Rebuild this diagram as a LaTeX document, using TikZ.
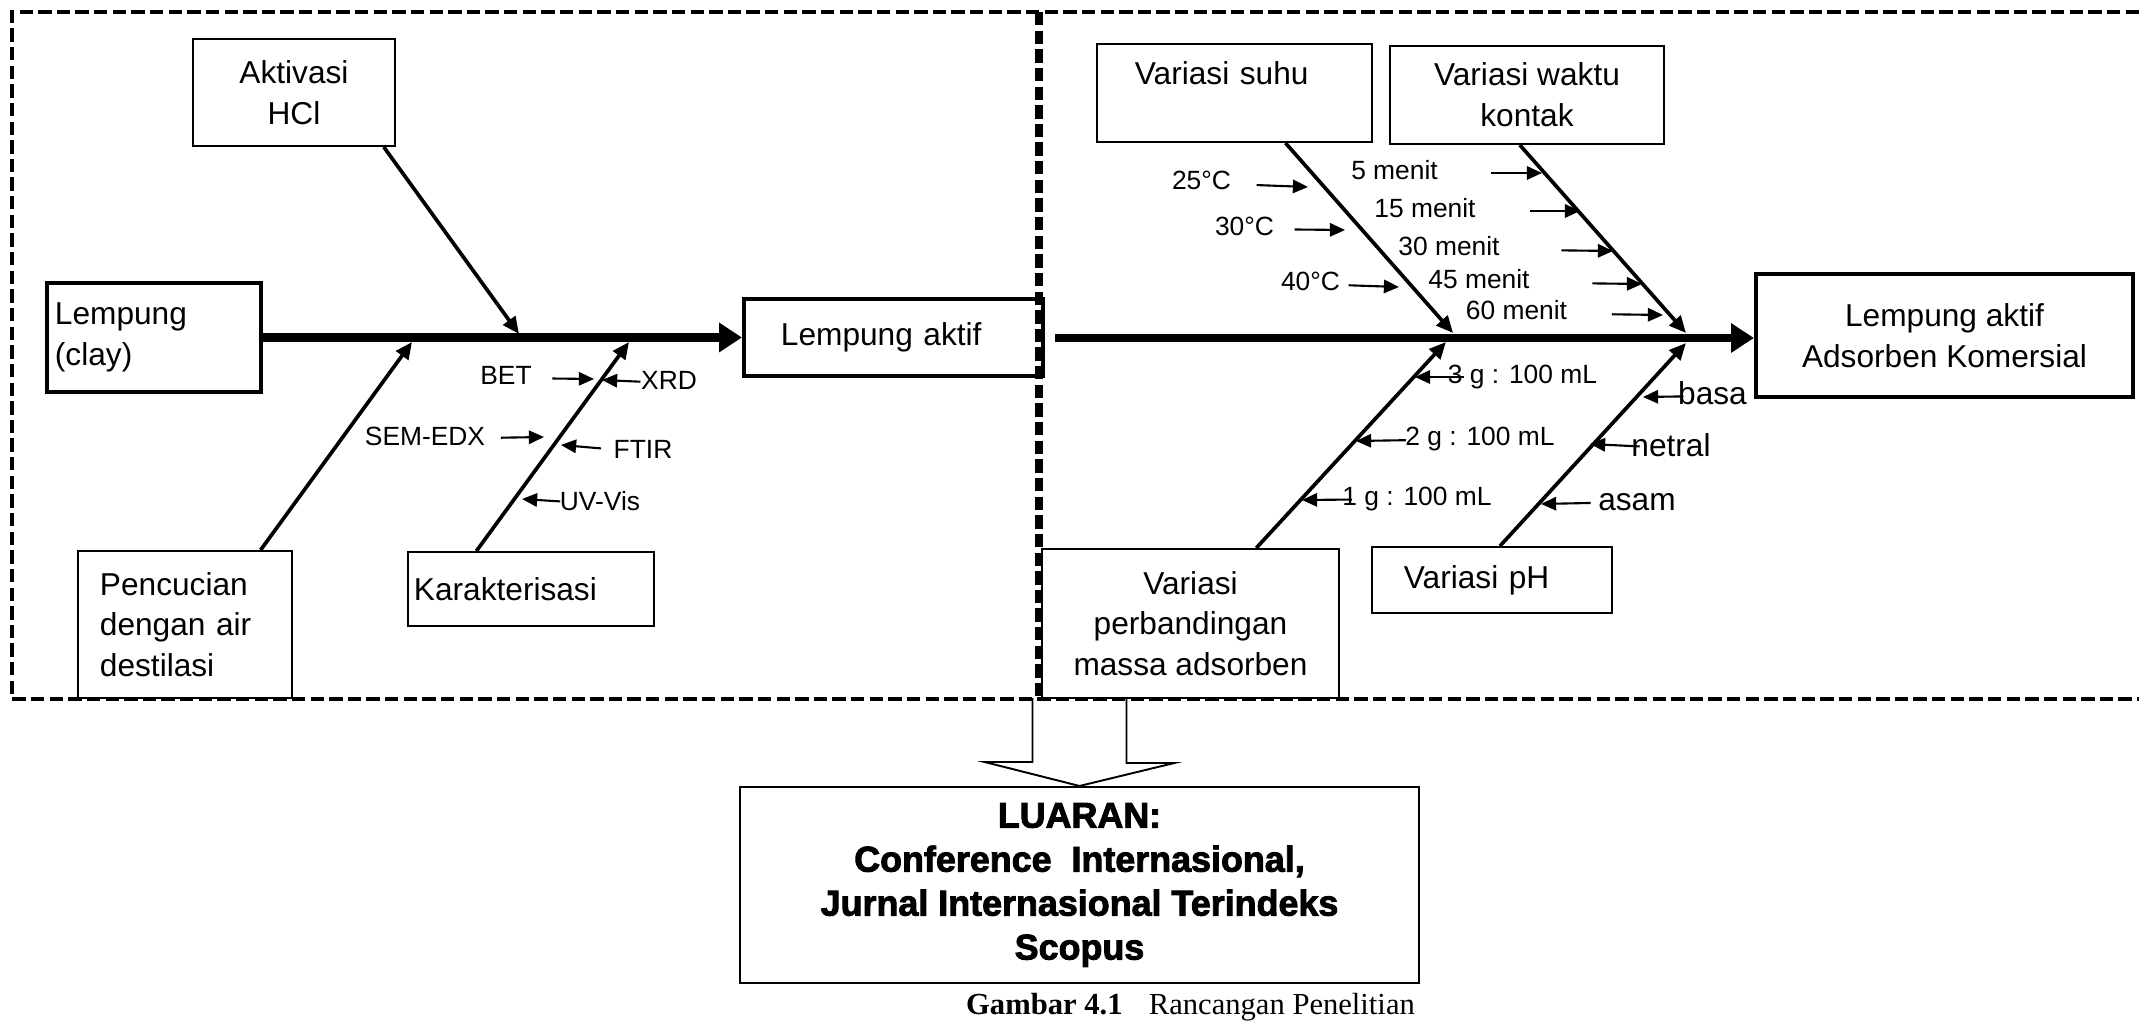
\documentclass[tikz,border=0pt]{standalone}
\usepackage{fontspec}
\setmainfont{Liberation Sans}
\newfontfamily\capfont{Liberation Serif}
\newfontfamily\heavyfont{Liberation Sans Bold}[FakeBold=2.5]
\usepackage{tikz}
\usetikzlibrary{arrows.meta,positioning,calc}

\begin{document}
\begin{tikzpicture}[x=0.01cm, y=-0.01cm, >=Latex,
        box/.style={draw, line width=0.55pt, inner sep=0pt, font=\fontsize{9}{11.6}\selectfont},
        thickbox/.style={box, line width=1.1pt},
        branch/.style={line width=1.05pt, -{Triangle[length=4.8pt,width=4.2pt]}},
        spine/.style={line width=2.3pt, -{Triangle[length=6.5pt,width=8pt]}},
        tick/.style={line width=0.6pt, -{Triangle[length=4.3pt,width=3.8pt]}},
        tag/.style={inner sep=0pt, font=\fontsize{7.5}{9}\selectfont, text height=5.4pt, text depth=1.5pt},
        bigtag/.style={inner sep=0pt, font=\fontsize{9}{11}\selectfont, text height=6.5pt, text depth=1.8pt},
        frame/.style={line width=1.4pt, dash pattern=on 3.8pt off 1.5pt}]
        \useasboundingbox[fill=white] (0,0) rectangle (2139,1025);

        % Left part: preparation of the clay
        \node[box, minimum width=2.02cm, minimum height=1.07cm, align=center] (akt) at (294,92.5) {Aktivasi\\HCl};
        \node[thickbox, minimum width=2.14cm, minimum height=1.09cm, text width=1.98cm, align=left] (clay) at (154,337.5) {Lempung\\(clay)};
        \node[thickbox, minimum width=2.99cm, minimum height=0.77cm, text width=2.25cm, align=left] (aktif) at (893.5,337.5) {Lempung aktif};
        \node[box, minimum width=2.14cm, minimum height=1.47cm, text width=1.70cm, align=left] (cuci) at (185,624.5) {Pencucian\\dengan air\\destilasi};
        \node[box, minimum width=2.46cm, minimum height=0.74cm, text width=2.34cm, align=left] (karak) at (531,589) {Karakterisasi};

        \coordinate (jA) at (519,334);
        \coordinate (jP) at (412,342);
        \coordinate (jK) at (629,342);
        \draw[spine] (clay) -- (aktif);
        \draw[branch] ($(akt.south west)!0.94!(akt.south east)$) -- (jA);
        \draw[branch] ($(cuci.north west)!0.85!(cuci.north east)$) -- (jP);
        \draw[branch] ($(karak.north west)!0.28!(karak.north east)$) -- (jK);

        \foreach \txt/\lx/\ly/\tx/\ty/\g [count=\i] in {BET/506/378/594/379/0.20, XRD/669/383/602/380/0.0,
            SEM-EDX/425/439/544/437/0.15, FTIR/643/452/561/445/0.12, UV-Vis/600/504/522/499/-0.01} {
            \node[tag] (kl\i) at (\lx,\ly) {\txt};
            \coordinate (kt\i) at (\tx,\ty);
            \draw[tick, shorten <=\g cm] (kl\i) -- (kt\i);
        }

        % Right part: adsorption variables
        \node[box, minimum width=2.75cm, minimum height=0.98cm, text width=1.99cm, align=left] (suhu) at (1234.5,93) {Variasi suhu\\~};
        \node[box, minimum width=2.74cm, minimum height=0.98cm, align=center] (waktu) at (1527,95) {Variasi waktu\\kontak};
        \node[thickbox, minimum width=3.77cm, minimum height=1.23cm, align=center] (adsorben) at (1944.5,335.5) {Lempung aktif\\Adsorben Komersial};
        \node[box, minimum width=2.97cm, minimum height=1.49cm, align=center] (massa) at (1190.5,623.5) {Variasi\\perbandingan\\massa adsorben};
        \node[box, minimum width=2.40cm, minimum height=0.66cm, text width=1.76cm, align=left] (ph) at (1492,580) {Variasi pH};

        \coordinate (r0) at (1055,338);
        \coordinate (jS) at (1453,333);
        \coordinate (jW) at (1686,333);
        \coordinate (jM) at (1446,342);
        \coordinate (jH) at (1686,343);
        \draw[spine] (r0) -- (r0 -| adsorben.west);
        \draw[branch] ($(suhu.south west)!0.684!(suhu.south east)$) -- (jS);
        \draw[branch] ($(waktu.south west)!0.474!(waktu.south east)$) -- (jW);
        \draw[branch] ($(massa.north west)!0.72!(massa.north east)$) -- (jM);
        \draw[branch] ($(ph.north west)!0.533!(ph.north east)$) -- (jH);

        \foreach \txt/\lx/\ly/\tx/\ty/\g [count=\i] in {25°C/1201.5/183/1308/187/0.25, 30°C/1244.5/229/1345/230/0.20,
            40°C/1310.5/284/1399/287/0.08, 5 menit/1394.5/173/1542/173/0.53, 15 menit/1425/211/1580/211/0.54,
            30 menit/1449/249/1613/251/0.61, 45 menit/1479/282/1642/284/0.62, 60 menit/1516.5/313/1663/315/0.44,
            3 g : 100 mL/1522.5/377/1415/377/-0.17, 2 g : 100 mL/1480/439/1356/441/-0.01,
            1 g : 100 mL/1417/499/1302/500/-0.10} {
            \node[tag] (vl\i) at (\lx,\ly) {\txt};
            \coordinate (vt\i) at (\tx,\ty);
            \draw[tick, shorten <=\g cm] (vl\i) -- (vt\i);
        }
        \foreach \txt/\lx/\ly/\tx/\ty/\g [count=\i] in {basa/1712.5/396/1643/397/-0.06,
            netral/1671/448/1590/444/-0.09, asam/1637/502/1541/504/0.07} {
            \node[bigtag] (pl\i) at (\lx,\ly) {\txt};
            \coordinate (pt\i) at (\tx,\ty);
            \draw[tick, shorten <=\g cm] (pl\i) -- (pt\i);
        }

        % Dashed frame
        \draw[frame] (2139,12) -- (12,12) -- (12,699) -- (2139,699);
        \draw[frame, line width=2pt] (1039,12) -- (1039,699);

        % Output
        \node[box, minimum width=6.79cm, minimum height=1.96cm, align=center, font=\heavyfont\fontsize{10.2}{12.5}\selectfont] (luaran) at (1079.5,885)
            {LUARAN:\\Conference\ \ Internasional,\\Jurnal Internasional Terindeks\\Scopus};
        \draw[line width=0.55pt] ($(luaran.north)+(-47,-88)$) -- ++(0,64) -- ++(-48,0) -- (luaran.north)
            -- ++(95,-23) -- ++(-48,0) -- ++(0,-64);
        \node[font=\capfont\fontsize{8.7}{11}\selectfont] (cap) at (1190.5,1007) {\textbf{Gambar 4.1}\hspace{7.5pt}Rancangan Penelitian};
\end{tikzpicture}
\end{document}
